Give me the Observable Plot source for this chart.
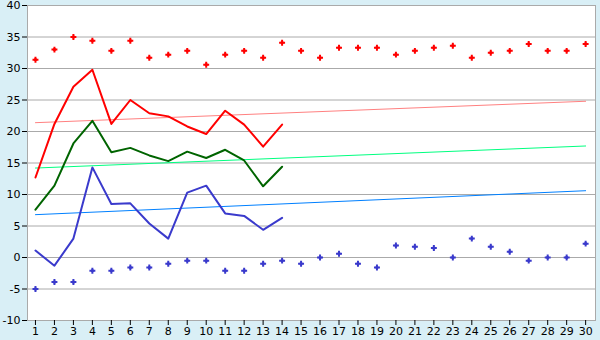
<!DOCTYPE html>
<html>
<head>
<meta charset="utf-8">
<script src="https://cdn.jsdelivr.net/npm/d3@7"></script>
<script src="https://cdn.jsdelivr.net/npm/@observablehq/plot@0.6"></script>
<style>
  html, body { margin: 0; padding: 0; background: #d9eff6; }
  #chart svg { display: block; background: transparent; }
</style>
</head>
<body>
<div id="chart"></div>
<script>
const days = d3.range(1, 31);
const redDots = [31.4, 33.0, 35.0, 34.4, 32.8, 34.4, 31.7, 32.2, 32.8, 30.6, 32.2, 32.8, 31.7, 34.1, 32.8, 31.7, 33.3, 33.3, 33.3, 32.2, 32.8, 33.3, 33.6, 31.7, 32.5, 32.8, 33.9, 32.8, 32.8, 33.9];
const blueDots = [-5.0, -3.9, -3.9, -2.1, -2.1, -1.6, -1.6, -1.0, -0.5, -0.5, -2.1, -2.1, -1.0, -0.5, -1.0, 0.0, 0.6, -1.0, -1.6, 1.9, 1.7, 1.5, 0.0, 3.0, 1.7, 0.9, -0.5, 0.0, 0.0, 2.2];
const lineDays = d3.range(1, 15);
const redLine = [12.7, 21.2, 27.1, 29.8, 21.2, 25.0, 22.9, 22.4, 20.8, 19.6, 23.3, 21.1, 17.6, 21.1];
const greenLine = [7.6, 11.4, 18.1, 21.7, 16.7, 17.4, 16.2, 15.3, 16.8, 15.8, 17.1, 15.4, 11.3, 14.4];
const blueLine = [1.1, -1.3, 3.0, 14.3, 8.5, 8.6, 5.4, 3.0, 10.3, 11.4, 7.0, 6.6, 4.4, 6.3];
const trendDays = [1, 30];
const redTrend = [21.4, 24.8];
const greenTrend = [14.2, 17.7];
const blueTrend = [6.8, 10.6];
const yTicks = [-10, -5, 0, 5, 10, 15, 20, 25, 30, 35, 40];

const pts = (xs, ys) => xs.map((x, i) => ({x, y: ys[i]}));
const marker = (data, color) => [
  Plot.dot(data, {x: "x", y: "y", symbol: "cross", r: 2.5, fill: color, stroke: "none"}),
  Plot.dot(data, {x: "x", y: "y", symbol: "square", r: 1.5, fill: color, stroke: "none"})
];

const chart = Plot.plot({
  width: 600,
  height: 340,
  marginLeft: 27,
  marginRight: 5,
  marginTop: 5,
  marginBottom: 20,
  style: {fontFamily: "DejaVu Sans, Verdana, sans-serif", fontSize: "11px", color: "#000", background: "transparent"},
  x: {domain: [0.58, 30.52], label: null},
  y: {domain: [-10, 40], label: null},
  marks: [
    Plot.frame({fill: "white", stroke: "#aaa"}),
    Plot.gridY(yTicks, {stroke: "#aaa", strokeOpacity: 1}),
    Plot.ruleX([0.58], {stroke: "#aaa"}),
    Plot.ruleY([-10], {stroke: "#aaa"}),
    Plot.axisX({ticks: days, tickFormat: d => String(d), tickSize: 5, tickPadding: 2, stroke: "#000", label: null}),
    Plot.axisY({ticks: yTicks, tickFormat: d => String(d), tickSize: 5, tickPadding: 2, label: null}),
    Plot.line(pts(trendDays, redTrend), {x: "x", y: "y", stroke: "#ff8080", strokeWidth: 1}),
    Plot.line(pts(trendDays, greenTrend), {x: "x", y: "y", stroke: "#00ff80", strokeWidth: 1}),
    Plot.line(pts(trendDays, blueTrend), {x: "x", y: "y", stroke: "#0080ff", strokeWidth: 1}),
    Plot.line(pts(lineDays, redLine), {x: "x", y: "y", stroke: "#ff0000", strokeWidth: 2}),
    Plot.line(pts(lineDays, greenLine), {x: "x", y: "y", stroke: "#006400", strokeWidth: 2}),
    Plot.line(pts(lineDays, blueLine), {x: "x", y: "y", stroke: "#3a3acc", strokeWidth: 2}),
    ...marker(pts(days, redDots), "#ff0000"),
    ...marker(pts(days, blueDots), "#3a3acc")
  ]
});
document.getElementById("chart").appendChild(chart);
</script>
</body>
</html>
